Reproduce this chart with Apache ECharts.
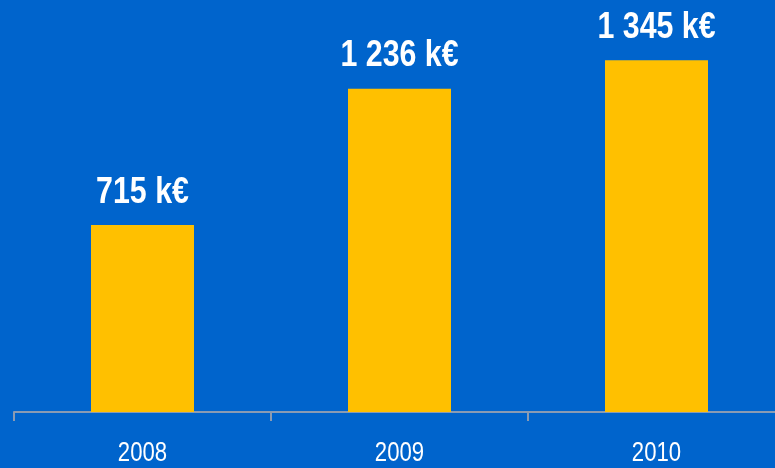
<!DOCTYPE html>
<html lang="fr">
<head>
    <meta charset="UTF-8">
    <title>Chiffre d'affaires</title>
    <script src="https://cdn.jsdelivr.net/npm/echarts@6/dist/echarts.min.js"></script>
    <style>
        * { margin: 0; padding: 0; box-sizing: border-box; }
        body { background: #0064cc; }
        #chart { width: 775px; height: 468px; }
    </style>
</head>
<body>
    <div id="chart"></div>
    <script>
        // données
        const years = ['2008', '2009', '2010'];
        const amounts = [715, 1236, 1345];
        const amountLabels = ['715 k€', '1 236 k€', '1 345 k€'];

        const font = 'Liberation Sans, Arial, sans-serif';
        const narrow = 0.82; // police étroite simulée

        const chart = echarts.init(document.getElementById('chart'));
        chart.setOption({
            backgroundColor: '#0064cc',
            animation: false,
            grid: { left: 14, top: 0, bottom: 56, width: 771, outerBoundsMode: 'none', containLabel: false },
            xAxis: {
                type: 'category',
                data: years,
                axisLine: { lineStyle: { color: '#8a9bb3', width: 2 } },
                axisTick: { show: true, length: 9, lineStyle: { color: '#8a9bb3', width: 2 } },
                axisLabel: { show: false }
            },
            yAxis: {
                type: 'value',
                min: 0,
                max: 1575,
                show: false,
                splitLine: { show: false }
            },
            series: [{
                type: 'bar',
                data: amounts,
                barWidth: 103,
                itemStyle: { color: '#ffc000' }
            }, {
                // étiquettes (valeurs + années) en police condensée
                type: 'custom',
                data: amounts.map((v, i) => [i, v]),
                renderItem: (params, api) => {
                    const i = api.value(0);
                    const top = api.coord([i, api.value(1)]);
                    const base = api.coord([i, 0]);
                    return {
                        type: 'group',
                        children: [{
                            type: 'text',
                            x: top[0], y: top[1] - 14,
                            scaleX: narrow,
                            style: {
                                text: amountLabels[i],
                                fill: '#ffffff',
                                font: 'bold 37px ' + font,
                                textAlign: 'center',
                                textVerticalAlign: 'bottom'
                            }
                        }, {
                            type: 'text',
                            x: base[0], y: base[1] + 28,
                            scaleX: narrow,
                            style: {
                                text: years[i],
                                fill: '#ffffff',
                                font: '27px ' + font,
                                textAlign: 'center',
                                textVerticalAlign: 'top'
                            }
                        }]
                    };
                }
            }]
        });
    </script>
</body>
</html>
